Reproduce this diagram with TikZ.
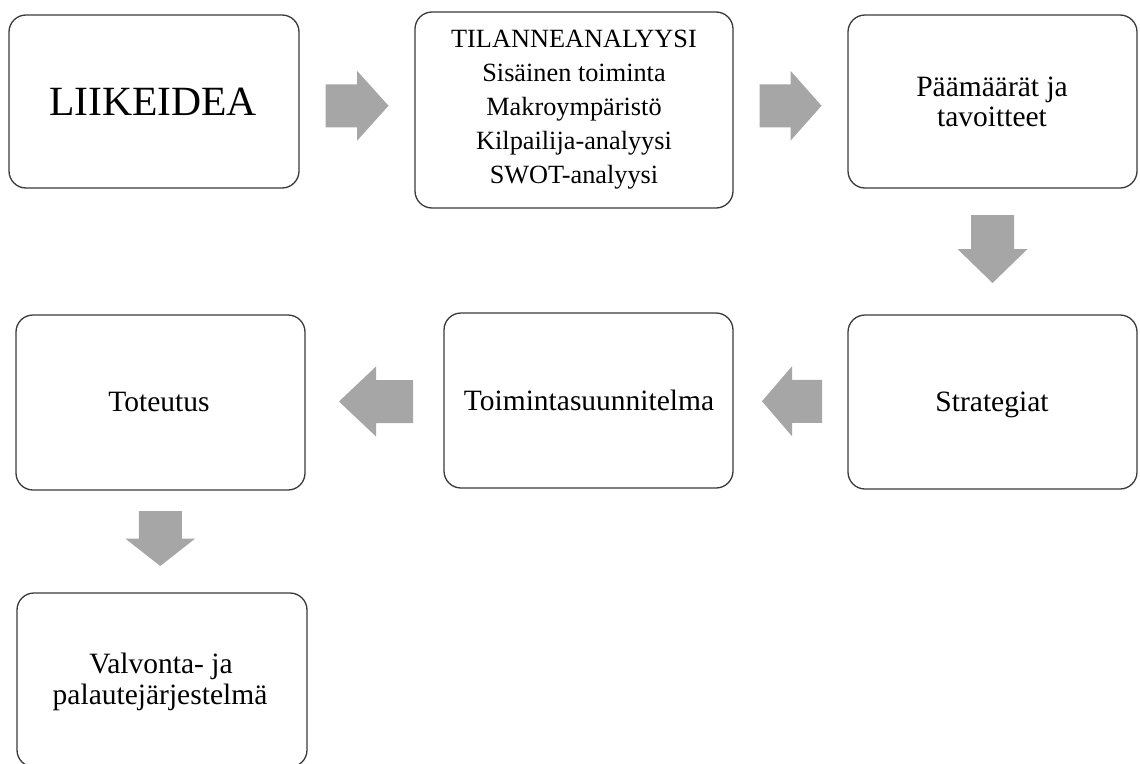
\documentclass[tikz,border=0pt]{standalone}
\usepackage{fontspec}
\setmainfont{Liberation Serif}
\usetikzlibrary{calc}
\definecolor{boxline}{HTML}{3A3A3A}
\definecolor{arrowgray}{HTML}{A6A6A6}
\begin{document}
\begin{tikzpicture}[x=1pt,y=-1pt,
  box/.style={draw=boxline, line width=1.3pt, rounded corners=17pt, inner sep=0pt, fill=white},
  bigtxt/.style={font=\fontsize{41.6}{44}\selectfont, inner sep=0pt, anchor=base},
  midtxt/.style={font=\fontsize{29.5}{30}\selectfont, inner sep=0pt, anchor=base},
  smalltxt/.style={font=\fontsize{26.3}{28}\selectfont, inner sep=0pt, anchor=base},
  pics/blockarrow/.style={code={
    \fill[arrowgray] (-#1/2,-21.5) -- (0,-21.5) -- (0,-35) -- (#1/2,0) -- (0,35) -- (0,21.5) -- (-#1/2,21.5) -- cycle;
  }}]
\useasboundingbox (0,0) rectangle (1140,763);
\clip (0,0) rectangle (1140,763);
% boxes
\node[box, minimum width=290pt, minimum height=173pt] (b1) at (154,101.5) {};
\node[box, minimum width=318pt, minimum height=196pt] (b2) at (574,110) {};
\node[box, minimum width=289pt, minimum height=173pt] (b3) at (992.5,101.5) {};
\node[box, minimum width=289pt, minimum height=174pt] (b4) at (992.5,402) {};
\node[box, minimum width=289pt, minimum height=175pt] (b5) at (588.5,400.5) {};
\node[box, minimum width=289pt, minimum height=175pt] (b6) at (160.5,402.5) {};
\node[box, minimum width=290pt, minimum height=174pt] (b7) at (162,680) {};
% texts
\node[bigtxt] (t1) at (153,115) {LIIKEIDEA};
\node[smalltxt] (t2a) at (574,47) {TILANNEANALYYSI};
\node[smalltxt] (t2b) at (574,81) {Sisäinen toiminta};
\node[smalltxt] (t2c) at (574,115) {Makroympäristö};
\node[smalltxt] (t2d) at (574,149) {Kilpailija-analyysi};
\node[smalltxt] (t2e) at (574,183) {SWOT-analyysi};
\node[midtxt] (t3a) at (992,96) {Päämäärät ja};
\node[midtxt] (t3b) at (992,126) {tavoitteet};
\node[midtxt] (t4) at (992,411) {Strategiat};
\node[midtxt] (t5) at (589,410) {Toimintasuunnitelma};
\node[midtxt] (t6) at (159,411.5) {Toteutus};
\node[midtxt] (t7a) at (161,673) {Valvonta- ja};
\node[midtxt] (t7b) at (160,704) {palautejärjestelmä};
% block arrows between boxes
\pic at ($(b1.east)!0.5!(b2.west)$) {blockarrow=63};
\pic at ($(b2.east)!0.5!(b3.west)$) {blockarrow=62};
\pic[rotate=-90] at ($(b3.south)!0.5!(b4.north)+(0,-2.5)$) {blockarrow=68};
\pic[rotate=180] at ($(b4.west)!0.5!(b5.east)+(1.5,0)$) {blockarrow=60};
\pic[rotate=180] at ($(b5.west)!0.5!(b6.east)+(1.5,0)$) {blockarrow=74};
\pic[rotate=-90] at ($(b6.south)!0.5!(b7.north)+(-1,-3)$) {blockarrow=55};
\end{tikzpicture}
\end{document}
